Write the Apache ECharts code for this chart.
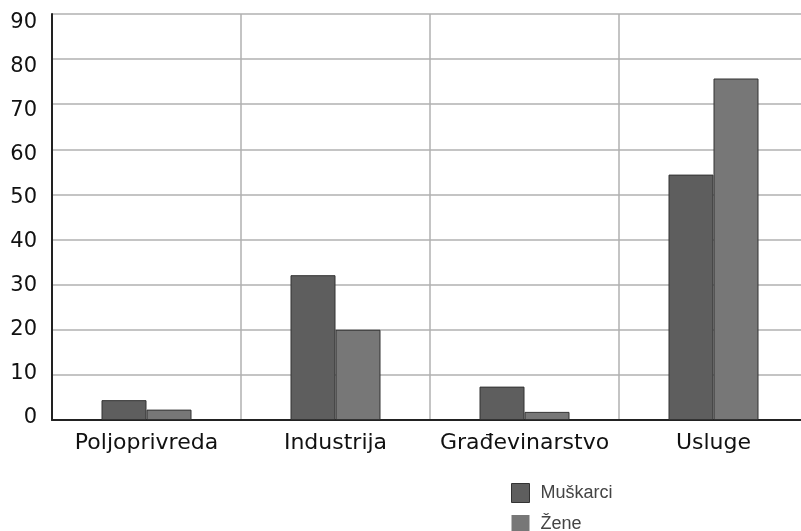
<!DOCTYPE html>
<html>
<head>
<meta charset="utf-8">
<style>
html,body{margin:0;padding:0;background:#fff;overflow:hidden;}
#chart{width:808px;height:560px;}
</style>
<script src="https://cdn.jsdelivr.net/npm/echarts@6/dist/echarts.min.js"></script>
</head>
<body>
<div id="chart"></div>
<script>
const categories = ['Poljoprivreda', 'Industrija', 'Građevinarstvo', 'Usluge'];
const muskarci = [4.4, 32.1, 7.4, 54.4];
const zene = [2.3, 20.0, 1.8, 75.7];
const yTicks = [0, 10, 20, 30, 40, 50, 60, 70, 80, 90];
const seriesNames = ['Muškarci', 'Žene'];

const chart = echarts.init(document.getElementById('chart'), null, {renderer: 'canvas'});
chart.setOption({
  animation: false,
  backgroundColor: '#ffffff',
  grid: {left: 52, top: 14, width: 756, height: 406, containLabel: false},
  legend: {
    orient: 'vertical',
    left: 511,
    top: 483,
    padding: 0,
    itemWidth: 18,
    itemHeight: 19,
    itemGap: 12,
    icon: 'rect',
    textStyle: {fontFamily: 'Liberation Sans', fontSize: 18, lineHeight: 19, color: '#444', padding: [0, 0, 0, 6]},
    data: [
      {name: seriesNames[0], itemStyle: {borderColor: '#333', borderWidth: 1}},
      {name: seriesNames[1], itemStyle: {borderWidth: 0}}
    ]
  },
  xAxis: {
    type: 'category',
    data: categories,
    boundaryGap: true,
    axisLine: {show: true, lineStyle: {color: '#222', width: 2}},
    axisTick: {show: false},
    splitLine: {show: true, interval: 0, lineStyle: {color: '#b0b0b0', width: 1.5}},
    axisLabel: {interval: 0, margin: 12, fontFamily: 'DejaVu Sans', fontSize: 22, color: '#111'}
  },
  yAxis: [
    {
      type: 'value',
      min: 0,
      max: 90,
      interval: 10,
      axisLine: {show: true, lineStyle: {color: '#222', width: 2}},
      axisTick: {show: false},
      axisLabel: {show: false},
      splitLine: {show: true, lineStyle: {color: '#b0b0b0', width: 1.5}}
    },
    {
      type: 'value',
      position: 'left',
      min: -0.57,
      max: 91.93,
      axisLine: {show: false},
      axisTick: {show: false},
      splitLine: {show: false},
      axisLabel: {
        show: true,
        customValues: yTicks,
        margin: 15,
        fontFamily: 'DejaVu Sans',
        fontSize: 21,
        color: '#111'
      }
    }
  ],
  series: [
    {
      name: seriesNames[0],
      type: 'bar',
      data: muskarci,
      barWidth: 45,
      barGap: '0%',
      itemStyle: {color: '#5e5e5e', borderColor: '#333', borderWidth: 1}
    },
    {
      name: seriesNames[1],
      type: 'bar',
      data: zene,
      barWidth: 45,
      barGap: '0%',
      itemStyle: {color: '#777777', borderColor: '#333', borderWidth: 1}
    }
  ]
});
</script>
</body>
</html>
